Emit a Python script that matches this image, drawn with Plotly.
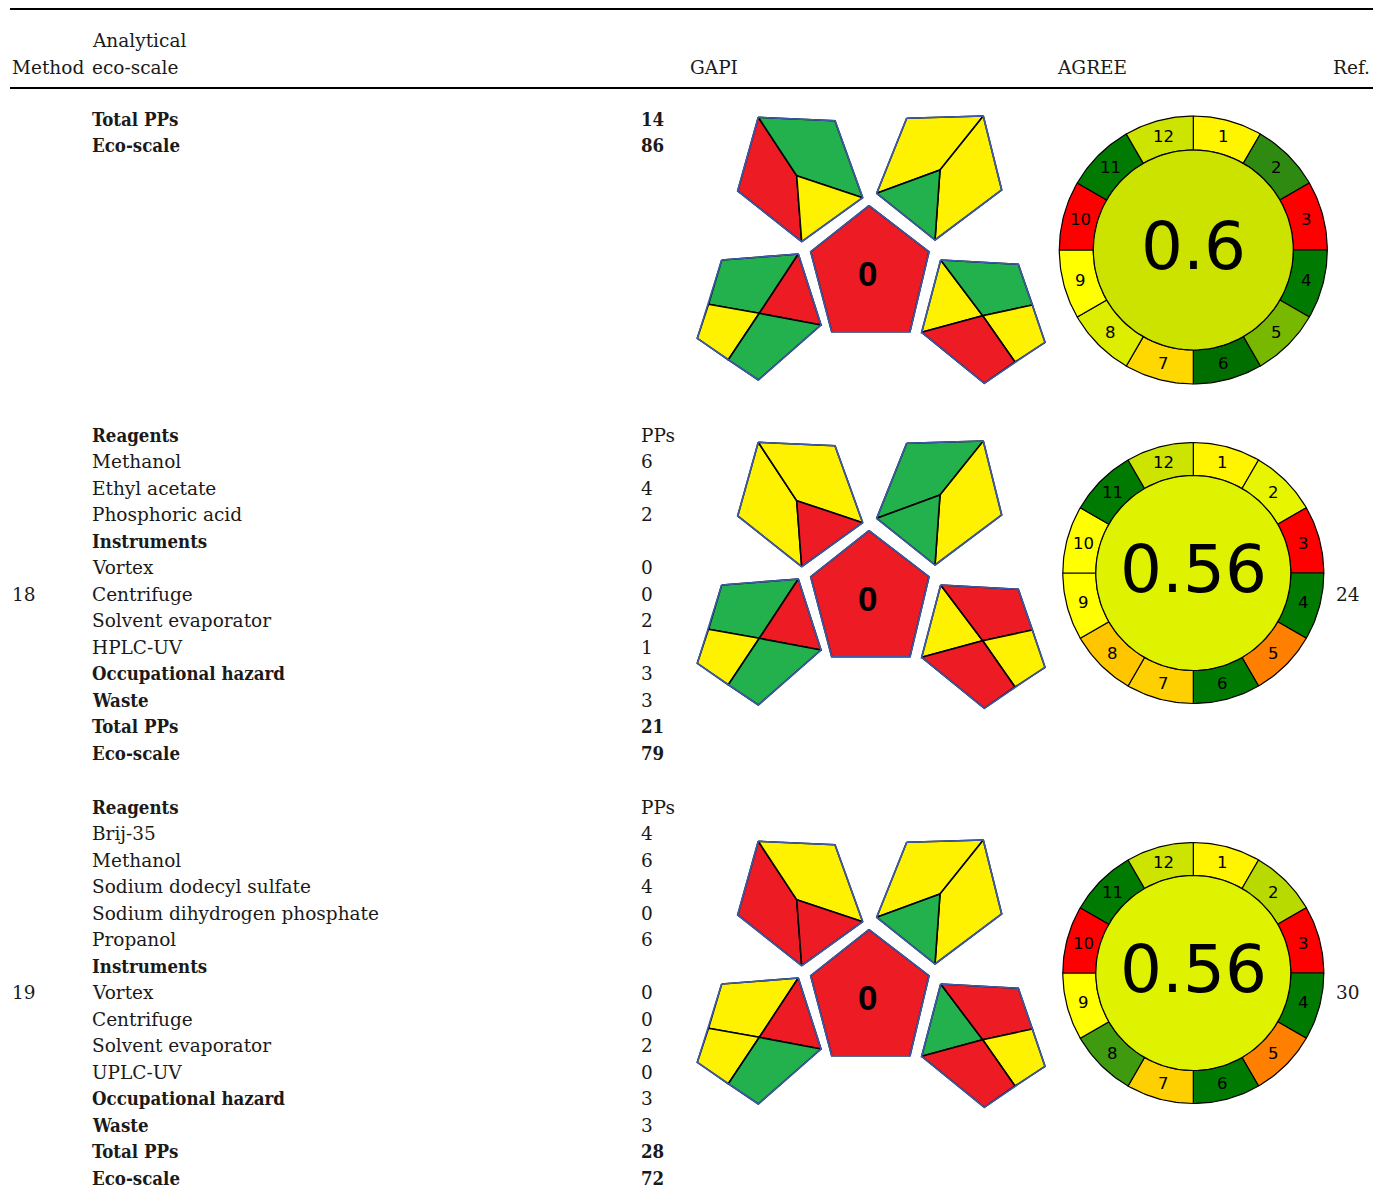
import math
import plotly.graph_objects as go

W, H = 1373, 1188

# ---------------- data ----------------
methods = ["", "18", "19"]
refs = ["", "24", "30"]

row1_items = ["Total PPs", "Eco-scale"]
row1_pps = ["14", "86"]

row2_items = ["Reagents", "Methanol", "Ethyl acetate", "Phosphoric acid", "Instruments",
              "Vortex", "Centrifuge", "Solvent evaporator", "HPLC-UV",
              "Occupational hazard", "Waste", "Total PPs", "Eco-scale"]
row2_pps = ["PPs", "6", "4", "2", "", "0", "0", "2", "1", "3", "3", "21", "79"]

row3_items = ["Reagents", "Brij-35", "Methanol", "Sodium dodecyl sulfate",
              "Sodium dihydrogen phosphate", "Propanol", "Instruments", "Vortex",
              "Centrifuge", "Solvent evaporator", "UPLC-UV", "Occupational hazard",
              "Waste", "Total PPs", "Eco-scale"]
row3_pps = ["PPs", "4", "6", "4", "0", "6", "", "0", "0", "2", "0", "3", "3", "28", "72"]

bold_labels = ["Reagents", "Instruments", "Occupational hazard", "Waste", "Total PPs", "Eco-scale"]
bold_value_labels = ["Total PPs", "Eco-scale"]

header_labels = ["Method", "Analytical", "eco-scale", "GAPI", "AGREE", "Ref."]

# GAPI field colours (R red, G green, Y yellow), 15 fields per method
gapi_row1 = ["R", "G", "Y", "Y", "Y", "G", "R", "G", "R", "Y", "G", "Y", "G", "Y", "R"]
gapi_row2 = ["Y", "Y", "R", "G", "Y", "G", "R", "G", "R", "Y", "G", "Y", "R", "Y", "R"]
gapi_row3 = ["R", "Y", "R", "Y", "Y", "G", "R", "Y", "R", "Y", "G", "G", "R", "Y", "R"]
gapi_center_label = ["0", "0", "0"]

# AGREE
agree_scores = ["0.6", "0.56", "0.56"]
agree_row1 = ["#FFF500", "#2F8A12", "#FF0000", "#007A00", "#78B800", "#006F00",
              "#FFD800", "#DDEE00", "#FFFF00", "#FF0000", "#007A00", "#CDE300"]
agree_row2 = ["#FFF500", "#E8F500", "#FF0000", "#007A00", "#FF8000", "#007A00",
              "#FFD000", "#FFC600", "#FFFF00", "#FFFF00", "#007A00", "#CDE300"]
agree_row3 = ["#FFF500", "#B8DA00", "#FF0000", "#007A00", "#FF8000", "#007A00",
              "#FFD000", "#3F9A10", "#FFFF00", "#FF0000", "#007A00", "#CDE300"]
agree_center = ["#CCE300", "#DFF200", "#DFF200"]

# ---------------- styles / layout ----------------
SERIF = "DejaVu Serif"
SERIF_BOLD = "DejaVu Serif Condensed, DejaVu Serif"
SANS = "DejaVu Sans"
TXT = "#1a1a1a"
FS = 18.5
GAPI_COL = {"R": "#ED1C24", "G": "#22B14C", "Y": "#FFF200"}
GAPI_EDGE = "#3D5BA8"

row_first_y = [119, 435, 807]
row_step = [26, 26.5, 26.5]
method_line_idx = [None, 6, 7]
gapi_dy = [0, 325, 724]
wheel_cx = 1193.3
wheel_cy = [250, 573, 973]
wheel_rout = [134, 130.5, 130.5]
wheel_rin = [100, 97.5, 97.5]

# GAPI pictogram template (pixel geometry of the symbol)
P = {
    "tl": {"TL": (758.3, 117.3), "TR": (835, 120.7), "R": (862.7, 197.7), "B": (801.7, 241.7),
           "L": (737.7, 191), "I": (796.7, 175.7)},
    "tr": {"TL": (906.7, 118.3), "TR": (983.3, 116), "R": (1001.7, 190), "B": (935, 240),
           "L": (876.7, 193.3), "I": (940, 170)},
    "c": {"T": (869, 205.7), "R": (929, 251.7), "BR": (910, 331.7), "BL": (831.7, 331.7),
          "L": (810.7, 251.7)},
    "bl": {"TL": (721.7, 260), "TR": (798.3, 254), "BR": (821, 325), "B": (758.3, 380),
           "L": (697.3, 338.3), "I": (759.3, 313.3), "pA": (708.5, 304.3), "pB": (728.3, 359.8)},
    "br": {"TL": (940.7, 260), "TR": (1018.3, 264.3), "R": (1045, 342.3), "B": (984.3, 383.3),
           "L": (921.7, 332.3), "I": (982.7, 315.7), "pC": (1032.4, 305), "pD": (1015, 362)},
}
fields = [
    ("tl", ["TL", "I", "B", "L"]), ("tl", ["TL", "TR", "R", "I"]), ("tl", ["I", "R", "B"]),
    ("tr", ["TL", "TR", "I", "L"]), ("tr", ["TR", "R", "B", "I"]), ("tr", ["L", "I", "B"]),
    ("c", ["T", "R", "BR", "BL", "L"]),
    ("bl", ["TL", "TR", "I", "pA"]), ("bl", ["TR", "BR", "I"]), ("bl", ["pA", "I", "pB", "L"]),
    ("bl", ["I", "BR", "B", "pB"]),
    ("br", ["TL", "I", "L"]), ("br", ["TL", "TR", "pC", "I"]), ("br", ["pC", "R", "pD", "I"]),
    ("br", ["L", "I", "pD", "B"]),
]
outlines = [("tl", ["TL", "TR", "R", "B", "L"]), ("tr", ["TL", "TR", "R", "B", "L"]),
            ("c", ["T", "R", "BR", "BL", "L"]), ("bl", ["TL", "TR", "BR", "B", "L"]),
            ("br", ["TL", "TR", "R", "B", "L"])]

fig = go.Figure()


def poly(xs, ys, fill, lc, lw):
    fig.add_trace(go.Scatter(x=list(xs) + [xs[0]], y=list(ys) + [ys[0]], mode="lines",
                             fill="toself", fillcolor=fill, line=dict(color=lc, width=lw),
                             hoverinfo="skip", showlegend=False))


def txt(x, y, s, size=FS, bold=False, xanchor="left", family=None, color=TXT):
    if family is None:
        family = SERIF_BOLD if bold else SERIF
    shift = {"left": -2, "right": 2, "center": 0}[xanchor]
    fig.add_annotation(x=x + shift, y=y, xref="x", yref="y",
                       text=("<b>%s</b>" % s) if bold else s,
                       showarrow=False, xanchor=xanchor, yanchor="middle",
                       font=dict(family=family, size=size, color=color))


# header
fig.add_shape(type="line", x0=10, x1=W, y0=9, y1=9, xref="x", yref="y",
              line=dict(color="black", width=2.2))
fig.add_shape(type="line", x0=10, x1=W, y0=88, y1=88, xref="x", yref="y",
              line=dict(color="black", width=2.2))
txt(12, 67, header_labels[0])
txt(92, 40, header_labels[1])
txt(92, 67, header_labels[2])
txt(714, 67, header_labels[3], xanchor="center")
txt(1092, 67, header_labels[4], xanchor="center")
txt(1370, 67, header_labels[5], xanchor="right")

# text columns
rows_items = [row1_items, row2_items, row3_items]
rows_pps = [row1_pps, row2_pps, row3_pps]
for r in range(3):
    for k, (lab, val) in enumerate(zip(rows_items[r], rows_pps[r])):
        y = row_first_y[r] + k * row_step[r]
        txt(92, y, lab, bold=lab in bold_labels)
        if val:
            txt(641, y, val, bold=lab in bold_value_labels)
    if method_line_idx[r] is not None:
        y = row_first_y[r] + method_line_idx[r] * row_step[r]
        txt(12, y, methods[r])
        txt(1336, y, refs[r])

# GAPI pictograms
gapi_rows = [gapi_row1, gapi_row2, gapi_row3]
for r in range(3):
    dy = gapi_dy[r]
    for (grp, names), code in zip(fields, gapi_rows[r]):
        xs = [P[grp][n][0] for n in names]
        ys = [P[grp][n][1] + dy for n in names]
        poly(xs, ys, GAPI_COL[code], "black", 1.6)
    for grp, names in outlines:
        xs = [P[grp][n][0] for n in names]
        ys = [P[grp][n][1] + dy for n in names]
        poly(xs, ys, "rgba(0,0,0,0)", GAPI_EDGE, 1.6)
    txt(867, 273 + dy, gapi_center_label[r], size=35, bold=True, xanchor="center",
        family="Liberation Sans", color="black")

# AGREE wheels
agree_rows = [agree_row1, agree_row2, agree_row3]
for r in range(3):
    cx, cy, ro, ri = wheel_cx, wheel_cy[r], wheel_rout[r], wheel_rin[r]
    for k, col in enumerate(agree_rows[r]):
        a0, a1 = math.radians(k * 30), math.radians((k + 1) * 30)
        n = 24
        angs = [a0 + (a1 - a0) * i / n for i in range(n + 1)]
        xs = [cx + ro * math.sin(a) for a in angs] + [cx + ri * math.sin(a) for a in reversed(angs)]
        ys = [cy - ro * math.cos(a) for a in angs] + [cy - ri * math.cos(a) for a in reversed(angs)]
        poly(xs, ys, col, "black", 1.2)
        am = (a0 + a1) / 2
        rm = (ro + ri) / 2
        txt(cx + rm * math.sin(am), cy - rm * math.cos(am), str(k + 1), size=16.5,
            xanchor="center", family=SANS, color="black")
    angs = [2 * math.pi * i / 120 for i in range(120)]
    poly([cx + ri * math.sin(a) for a in angs], [cy - ri * math.cos(a) for a in angs],
         agree_center[r], "black", 1.2)
    txt(cx, cy - 4, agree_scores[r], size=66, xanchor="center", family=SANS, color="black")

fig.update_layout(
    width=W, height=H, margin=dict(l=0, r=0, t=0, b=0),
    paper_bgcolor="white", plot_bgcolor="white", showlegend=False,
    xaxis=dict(range=[0, W], visible=False, fixedrange=True),
    yaxis=dict(range=[H, 0], visible=False, fixedrange=True),
)
fig.write_html("out.html", config={"displayModeBar": False},
               post_script="document.body.style.margin='0px';document.body.style.overflow='hidden';")
